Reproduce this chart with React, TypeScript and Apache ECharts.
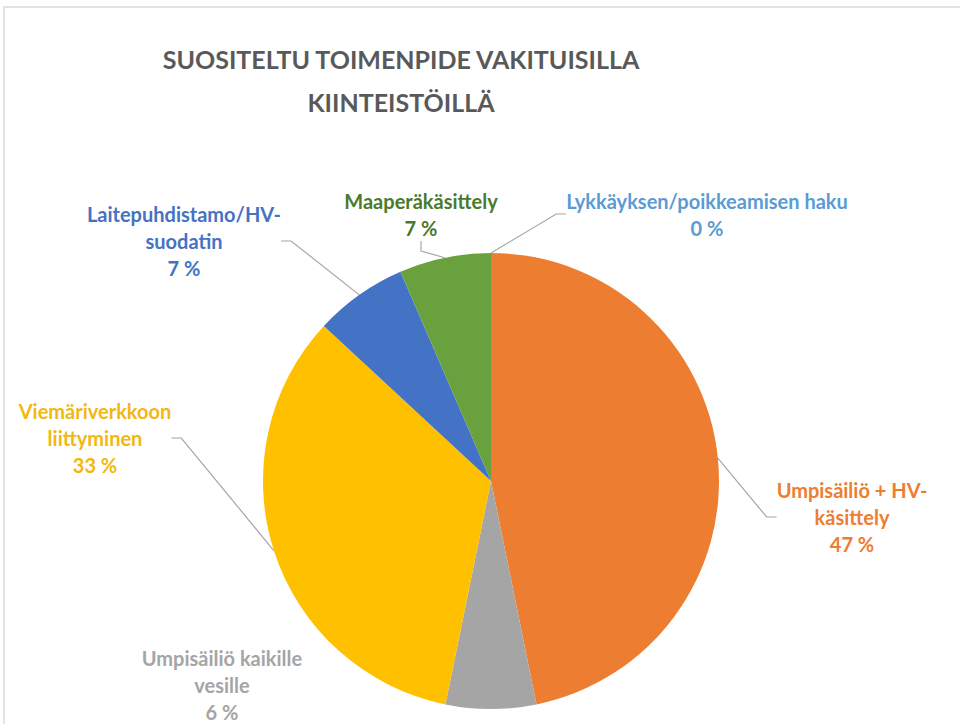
import React, { useEffect, useRef } from "react";
import * as echarts from "echarts";

const titleText = "SUOSITELTU TOIMENPIDE VAKITUISILLA\nKIINTEISTÖILLÄ";
const categories = [
  "Umpisäiliö + HV-käsittely",
  "Umpisäiliö kaikille vesille",
  "Viemäriverkkoon liittyminen",
  "Laitepuhdistamo/HV-suodatin",
  "Maaperäkäsittely",
  "Lykkäyksen/poikkeamisen haku",
];
const labelTexts = [
  "Umpisäiliö + HV-\nkäsittely",
  "Umpisäiliö kaikille\nvesille",
  "Viemäriverkkoon\nliittyminen",
  "Laitepuhdistamo/HV-\nsuodatin",
  "Maaperäkäsittely",
  "Lykkäyksen/poikkeamisen haku",
];
const values = [46.8, 6.4, 33.7, 6.6, 6.5, 0];
const percentLabels = [47, 6, 33, 7, 7, 0];
const sliceColors = ["#ED7D31", "#A5A5A5", "#FFC000", "#4472C4", "#6AA13F", "#5B9BD5"];
const textColors = ["#ED7D31", "#A5A5A5", "#F2B711", "#4472C4", "#4A7A2C", "#5B9BD5"];
// label centre positions (layout)
const labelPos = [
  [852, 517],
  [222, 685],
  [95, 438],
  [184, 241],
  [421, 214],
  [707, 214],
];
const showLine = [true, false, true, true, true, true];

export default function App() {
  const ref = useRef<HTMLDivElement>(null);
  useEffect(() => {
    document.body.style.margin = "0";
    const chart = echarts.init(ref.current!, null, { renderer: "svg" });
    chart.setOption({
      animation: false,
      backgroundColor: "#ffffff",
      title: {
        text: titleText,
        left: 396,
        top: 32,
        textAlign: "center",
        textStyle: {
          fontFamily: "Lato",
          fontWeight: "bold",
          fontSize: 25,
          lineHeight: 43,
          color: "#595959",
        },
      },
      graphic: [
        {
          type: "rect",
          shape: { x: 4, y: 7, width: 1000, height: 1000 },
          style: { fill: "none", stroke: "#d9d9d9", lineWidth: 1.5 },
          silent: true,
        },
      ],
      series: [
        {
          type: "pie",
          center: [491, 481],
          radius: 228,
          startAngle: 90,
          clockwise: true,
          avoidLabelOverlap: false,
          data: categories.map((c, i) => ({
            name: c,
            value: values[i],
            itemStyle: { color: sliceColors[i] },
            label: { color: textColors[i] },
            labelLine: { show: showLine[i] },
          })),
          label: {
            show: true,
            position: "outside",
            formatter: (p: any) => `${labelTexts[p.dataIndex]}\n${percentLabels[p.dataIndex]} %`,
            fontFamily: "Lato",
            fontWeight: "bold",
            fontSize: 20,
            lineHeight: 27,
            align: "center",
          },
          labelLine: {
            show: true,
            length: 20,
            length2: 10,
            lineStyle: { color: "#a6a6a6", width: 1.2 },
          },
          labelLayout: (p: any) => {
            const [x, y] = labelPos[p.dataIndex];
            return { x, y, align: "center", verticalAlign: "middle" };
          },
        },
      ],
    });
    return () => chart.dispose();
  }, []);
  return <div ref={ref} style={{ width: 960, height: 724 }} />;
}
